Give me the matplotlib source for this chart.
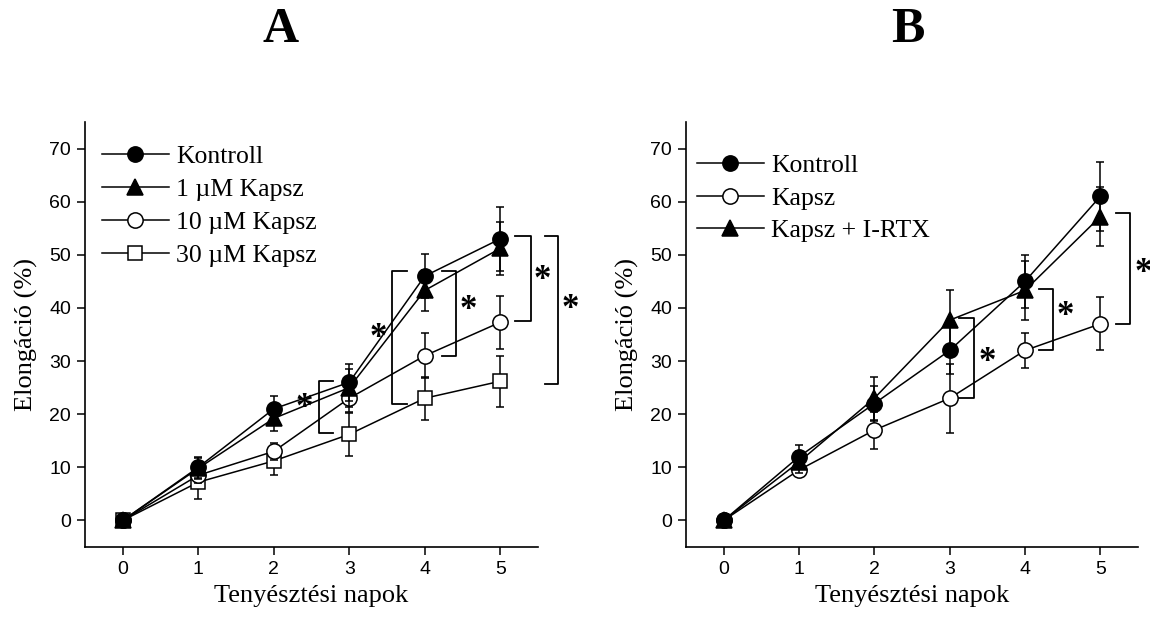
import matplotlib
matplotlib.use("Agg")
import matplotlib.pyplot as plt

# napok
days = [0, 1, 2, 3, 4, 5]

# A panel
a_kontroll = [0, 10, 21, 26, 46, 53]
a_kontroll_err = [0.4, 2, 2.5, 3.5, 4.1, 6]
a_1um = [0, 9.8, 19.2, 25, 43.3, 51.2]
a_1um_err = [0.4, 2, 2.3, 3.6, 3.9, 5]
a_10um = [0, 8.5, 13, 23, 31, 37.3]
a_10um_err = [0.3, 1.5, 1.6, 2.6, 4.2, 5]
a_30um = [0, 7.2, 11.2, 16.2, 23, 26.2]
a_30um_err = [0.3, 3.1, 2.7, 4, 4, 4.8]
a_labels = ["Kontroll", "1 µM Kapsz", "10 µM Kapsz", "30 µM Kapsz"]

# B panel
b_kontroll = [0, 12, 22, 32, 45, 61]
b_kontroll_err = [0.3, 2.2, 3.3, 4.5, 5, 6.5]
b_kapsz = [0, 9.5, 17, 23, 32, 37]
b_kapsz_err = [0.3, 1, 3.5, 6.5, 3.3, 5]
b_rtx = [0, 11, 23, 37.7, 43.3, 57.2]
b_rtx_err = [0.3, 2, 4, 5.7, 5.5, 5.5]
b_labels = ["Kontroll", "Kapsz", "Kapsz + I-RTX"]

# szignifikancia zárójelek: (x, felső, alsó, kar hossza (+ jobbra / - balra))
a_brackets = [(2.6, 26.3, 16.4, 0.18), (3.57, 47, 22, 0.19),
              (4.42, 46.9, 30.9, -0.19), (5.41, 53.5, 37.5, -0.21),
              (5.77, 53.5, 25.7, -0.18)]
a_stars = [(2.41, 21), (3.38, 34.2), (4.57, 39.5), (5.56, 45.2), (5.93, 39.8)]
b_brackets = [(3.32, 38.1, 23.1, -0.19), (4.37, 43.5, 32, -0.18),
              (5.4, 57.8, 37, -0.19)]
b_stars = [(3.5, 29.8), (4.53, 38.3), (5.57, 46.4)]

serif = "Liberation Serif"
sans = "Liberation Sans"

fig = plt.figure(figsize=(11.5, 6.29), dpi=100)
axA = fig.add_axes([85 / 1150, 82 / 629, 453 / 1150, 425 / 629])
axB = fig.add_axes([686 / 1150, 82 / 629, 452 / 1150, 425 / 629])


def series(ax, y, err, marker, face, ms, z):
    c = ax.errorbar(days, y, yerr=err, color="black", lw=1.1, elinewidth=1.1,
                    capsize=3, capthick=1.1, marker=marker, ms=ms,
                    mfc=face, mec="black", mew=1.1, zorder=z)
    return c[0]


def brackets(ax, brs, stars):
    for x, top, bot, arm in brs:
        ax.plot([x + arm, x, x, x + arm], [top, top, bot, bot], color="black",
                lw=1.3, clip_on=False, zorder=10)
    for x, y in stars:
        ax.text(x, y, "*", fontsize=25, fontweight="bold", family=serif,
                ha="center", va="center", clip_on=False)


def style(ax):
    ax.set_xlim(-0.5, 5.5)
    ax.set_ylim(-5, 75)
    ax.set_xticks(range(0, 6))
    ax.set_yticks(range(0, 71, 10))
    for s in ["top", "right"]:
        ax.spines[s].set_visible(False)
    for s in ["left", "bottom"]:
        ax.spines[s].set_linewidth(1.2)
    ax.tick_params(direction="out", length=6, width=1.1, labelsize=14, pad=4)
    for lab in ax.get_xticklabels() + ax.get_yticklabels():
        lab.set_family(sans)
    ax.set_xlabel("Tenyésztési napok", family=serif, fontsize=19, labelpad=5)
    ax.set_ylabel("Elongáció (%)", family=serif, fontsize=19, labelpad=8)


def legend(ax, handles, labels, anchor):
    ax.legend(handles, labels, loc="upper left", bbox_to_anchor=anchor,
              frameon=False, prop={"family": serif, "size": 18.5},
              handlelength=2.6, handletextpad=0.3, labelspacing=0.38,
              borderpad=0, borderaxespad=0)


ha = [series(axA, a_kontroll, a_kontroll_err, "o", "black", 11, 5),
      series(axA, a_1um, a_1um_err, "^", "black", 11, 4),
      series(axA, a_10um, a_10um_err, "o", "white", 11, 3),
      series(axA, a_30um, a_30um_err, "s", "white", 9.5, 2)]
brackets(axA, a_brackets, a_stars)
style(axA)
legend(axA, ha, a_labels, (0.037, 0.945))

hb = [series(axB, b_kontroll, b_kontroll_err, "o", "black", 11, 5),
      series(axB, b_kapsz, b_kapsz_err, "o", "white", 11, 3),
      series(axB, b_rtx, b_rtx_err, "^", "black", 11, 4)]
brackets(axB, b_brackets, b_stars)
style(axB)
legend(axB, hb, b_labels, (0.024, 0.925))

fig.text(281 / 1150, 1 - 30 / 629, "A", family=serif, fontsize=36,
         fontweight="bold", ha="center", va="center")
fig.text(908 / 1150, 1 - 30 / 629, "B", family=serif, fontsize=36,
         fontweight="bold", ha="center", va="center")

fig.savefig("out.png", dpi=100)
